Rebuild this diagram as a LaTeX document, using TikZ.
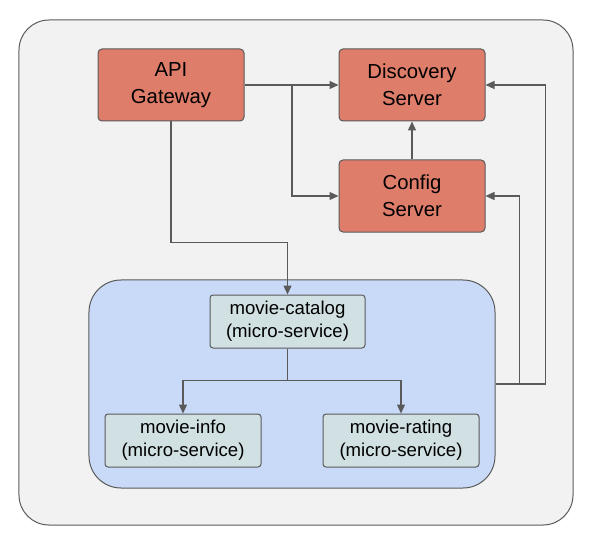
\documentclass[tikz,border=0pt]{standalone}
\usepackage{fontspec}
\setmainfont{Liberation Sans}
\usetikzlibrary{arrows.meta}
\definecolor{framefill}{HTML}{F2F2F2}
\definecolor{edgegray}{HTML}{5A5A5A}
\definecolor{serverred}{HTML}{DF7D6B}
\definecolor{groupblue}{HTML}{C9DAF8}
\definecolor{servicefill}{HTML}{D0E0E3}
\begin{document}
\begin{tikzpicture}[x=1bp,y=-1bp]
            \tikzstyle{bigbox}=[draw=edgegray, line width=1bp, fill=serverred, rounded corners=4bp, minimum width=146bp, minimum height=72bp, align=center, inner sep=0pt, font=\fontsize{20.3bp}{27bp}\selectfont]
            \tikzstyle{smallbox}=[draw=edgegray, line width=1bp, fill=servicefill, rounded corners=3bp, minimum width=156bp, minimum height=53bp, align=center, inner sep=0pt, font=\fontsize{18.6bp}{22.7bp}\selectfont]
            \tikzstyle{link}=[draw=edgegray, line width=1.3bp, -{Triangle[length=9bp,width=8bp]}]
            \tikzstyle{wire}=[draw=edgegray, line width=1.3bp]
            \useasboundingbox (0,0) rectangle (592,538);
            \node [draw=edgegray, line width=1bp, fill=framefill, rounded corners=30bp, minimum width=554bp, minimum height=505bp] (frame) at (296,272.5) {};
            \node [draw=edgegray, line width=1bp, fill=groupblue, rounded corners=32bp, minimum width=406bp, minimum height=208bp] (services) at (292,384) {};
            \node [bigbox] (gateway) at (171,85) {API\\Gateway};
            \node [bigbox] (discovery) at (412,85) {Discovery\\Server};
            \node [bigbox] (config) at (412,196) {Config\\Server};
            \node [smallbox, minimum width=155bp] (catalog) at (287.5,321.5) {movie-catalog\\(micro-service)};
            \node [smallbox] (info) at (183,440.5) {movie-info\\(micro-service)};
            \node [smallbox] (rating) at (401,440.5) {movie-rating\\(micro-service)};
            \coordinate (split) at (292,85);
            \draw [link] (gateway.east) -- (discovery.west);
            \draw [link] (split) |- (config.west);
            \draw [link] (gateway.south) -- ++(0,121) -| (catalog.north);
            \draw [link] (config.north) -- (discovery.south);
            \draw [link] (services.east) -- ++(50,0) |- (discovery.east);
            \draw [link] (services.east) -- ++(24,0) |- (config.east);
            \draw [link] (catalog.south) -- ++(0,32) -| (info.north);
            \draw [link] (catalog.south) -- ++(0,32) -| (rating.north);
            \end{tikzpicture}
\end{document}
